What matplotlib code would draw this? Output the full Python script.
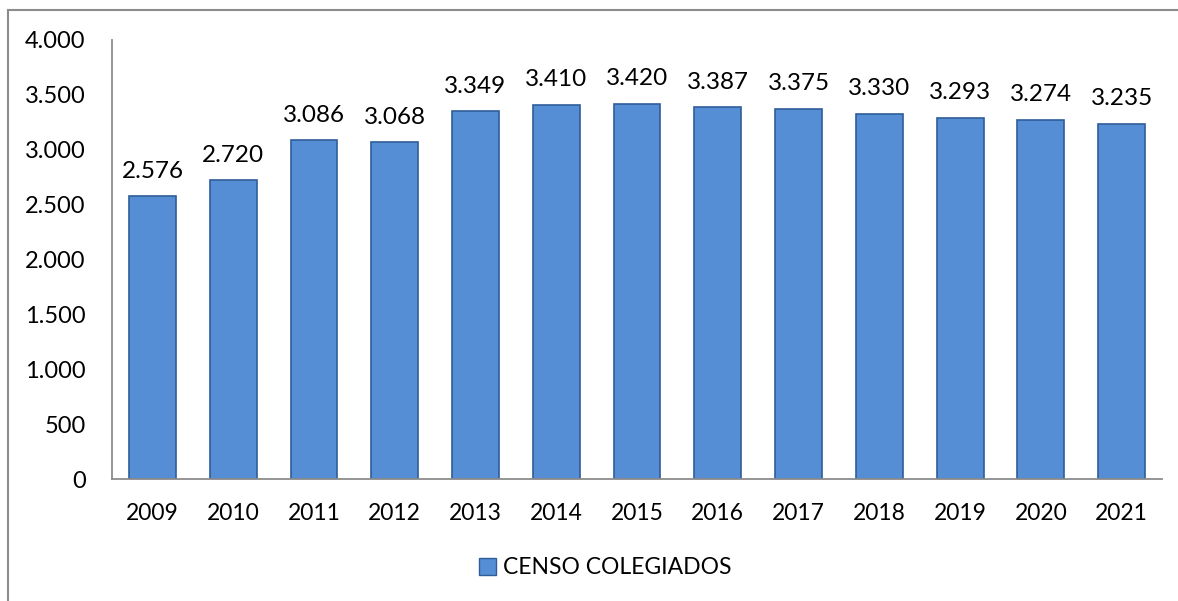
import matplotlib
matplotlib.use("Agg")
import matplotlib.pyplot as plt
from matplotlib.lines import Line2D
from matplotlib.patches import Patch

years = ["2009", "2010", "2011", "2012", "2013", "2014", "2015",
         "2016", "2017", "2018", "2019", "2020", "2021"]
values = [2576, 2720, 3086, 3068, 3349, 3410, 3420, 3387, 3375, 3330, 3293, 3274, 3235]
value_labels = ["2.576", "2.720", "3.086", "3.068", "3.349", "3.410", "3.420",
                "3.387", "3.375", "3.330", "3.293", "3.274", "3.235"]
yticks = [0, 500, 1000, 1500, 2000, 2500, 3000, 3500, 4000]
ytick_labels = ["0", "500", "1.000", "1.500", "2.000", "2.500", "3.000", "3.500", "4.000"]
series_name = "CENSO COLEGIADOS"

plt.rcParams['font.family'] = ['Lato', 'DejaVu Sans']

W, H = 1178, 601
fig = plt.figure(figsize=(W / 100, H / 100), dpi=100)

# outer chart border
fig.add_artist(Line2D([8 / W, 8 / W], [0, 1 - 10 / H], color="#8c8c8c", lw=1.5, transform=fig.transFigure))
fig.add_artist(Line2D([8 / W, 1], [1 - 10 / H, 1 - 10 / H], color="#8c8c8c", lw=1.5, transform=fig.transFigure))

left, right = 112, 1162
top, bottom = 40, 479
ax = fig.add_axes([left / W, 1 - bottom / H, (right - left) / W, (bottom - top) / H])

x = list(range(len(years)))
ax.bar(x, values, width=0.58, color="#558ED5", edgecolor="#2f5d99", linewidth=1.2, zorder=2)

for xi, v, lab in zip(x, values, value_labels):
    ax.annotate(lab, (xi, v), xytext=(0, 10.5), textcoords="offset points",
                ha="center", va="bottom", fontsize=17.5, color="#000000")

ax.set_xlim(-0.5, len(years) - 0.5)
ax.set_ylim(0, 4000)
ax.set_yticks(yticks)
ax.set_yticklabels(ytick_labels, fontsize=17)
ax.set_xticks(x)
ax.set_xticklabels(years, fontsize=16.5)
ax.tick_params(axis="x", length=0, pad=17)
ax.tick_params(axis="y", length=0, pad=19)
for s in ["top", "right"]:
    ax.spines[s].set_visible(False)
ax.spines["left"].set_color("#8c8c8c")
ax.spines["bottom"].set_color("#8c8c8c")
ax.spines["left"].set_linewidth(1.3)
ax.spines["bottom"].set_linewidth(1.3)

handle = Patch(facecolor="#558ED5", edgecolor="#2f5d99")
fig.legend([handle], [series_name], loc="center", bbox_to_anchor=(605 / W, 1 - 568 / H),
           frameon=False, fontsize=16.5, handlelength=0.75, handleheight=0.75, handletextpad=0.3)

fig.savefig("out.png", dpi=100, facecolor="white")
